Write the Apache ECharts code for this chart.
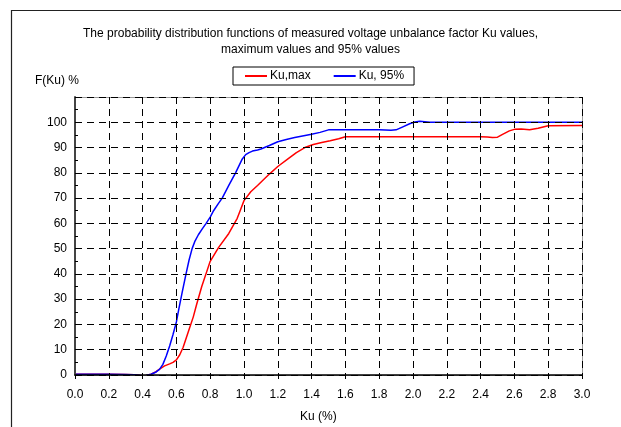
<!DOCTYPE html>
<html>
<head>
<meta charset="utf-8">
<script src="https://cdn.jsdelivr.net/npm/echarts@6/dist/echarts.min.js"></script>
<style>html,body{margin:0;padding:0;background:#fff;}#c{width:621px;height:427px;}</style>
</head>
<body>
<div id="c"></div>
<script>
var titleLines = ['The probability distribution functions of measured voltage unbalance factor Ku values,', 'maximum values and 95% values'];
var seriesNames = ['Ku,max', 'Ku, 95%'];
var xTicks = [0, 0.2, 0.4, 0.6, 0.8, 1.0, 1.2, 1.4, 1.6, 1.8, 2.0, 2.2, 2.4, 2.6, 2.8, 3.0];
var yTicks = [0, 10, 20, 30, 40, 50, 60, 70, 80, 90, 100];

var maxX = [0, 0.1, 0.2, 0.3, 0.35, 0.38, 0.4, 0.42, 0.45, 0.48, 0.5, 0.53, 0.56, 0.58, 0.6, 0.62, 0.64, 0.67, 0.7, 0.72, 0.75, 0.78, 0.8, 0.85, 0.91, 0.96, 0.98, 1.0, 1.04, 1.08, 1.15, 1.2, 1.26, 1.31, 1.36, 1.41, 1.46, 1.51, 1.56, 1.6, 1.8, 2.0, 2.2, 2.4, 2.44, 2.47, 2.5, 2.53, 2.57, 2.6, 2.64, 2.69, 2.74, 2.8, 3.0];
var maxY = [0.3, 0.3, 0.3, 0.2, 0.1, -0.1, -0.3, -0.2, 0.3, 1.3, 2.3, 3.6, 4.4, 5.0, 6.0, 8.0, 11, 17, 23, 28, 35, 41, 45, 50.5, 56, 62, 65.5, 69, 72.5, 75, 79.5, 82.5, 85.5, 88, 90, 91.2, 92, 92.7, 93.5, 94.3, 94.3, 94.3, 94.3, 94.3, 94.2, 94.0, 94.1, 95.2, 96.6, 97.2, 97.3, 97, 97.6, 98.6, 98.7];

var p95X = [0, 0.1, 0.2, 0.3, 0.35, 0.38, 0.4, 0.42, 0.45, 0.48, 0.5, 0.52, 0.54, 0.56, 0.58, 0.6, 0.614, 0.635, 0.657, 0.675, 0.693, 0.71, 0.73, 0.755, 0.776, 0.8, 0.82, 0.85, 0.871, 0.91, 0.95, 0.99, 1.01, 1.03, 1.05, 1.08, 1.1, 1.15, 1.2, 1.25, 1.3, 1.4, 1.45, 1.5, 1.6, 1.8, 1.87, 1.9, 1.94, 1.98, 2.01, 2.04, 2.07, 2.1, 2.4, 2.8, 3.0];
var p95Y = [0.3, 0.3, 0.3, 0.2, 0.1, -0.1, -0.3, -0.2, 0.3, 1.2, 2.2, 4.2, 7.5, 11.5, 16, 21, 26, 33, 40, 45.5, 50, 53, 55.5, 58, 60, 62.5, 65, 68, 70, 75, 80, 85.5, 87.2, 88, 88.6, 89, 89.4, 90.8, 92.3, 93.2, 94, 95.3, 96, 97, 97, 97, 96.8, 97, 98.2, 99.4, 100.1, 100.4, 100.2, 100, 100, 100, 100];

function pairs(xs, ys) { return xs.map(function (x, i) { return [x, ys[i]]; }); }

var G = {left: 75, right: 39, top: 97, bottom: 52};
var W = 621, H = 427;
var chart = echarts.init(document.getElementById('c'), null, {renderer: 'canvas'});
var font = 'Liberation Sans, Arial, sans-serif';
chart.setOption({
  animation: false,
  backgroundColor: '#fff',
  textStyle: {fontFamily: font},
  grid: {left: G.left, right: G.right, top: G.top, bottom: G.bottom, show: false},
  legend: {
    data: seriesNames,
    left: 233, top: 67,
    padding: [3, 10, 3, 12],
    itemGap: 23,
    itemWidth: 22, itemHeight: 2,
    icon: 'rect',
    borderColor: '#000', borderWidth: 1,
    textStyle: {fontFamily: font, fontSize: 12, color: '#000', padding: [0, 0, 0, -2]}
  },
  graphic: [
    {type: 'rect', shape: {x: 11.5, y: 10.5, width: 700, height: 500}, style: {fill: 'none', stroke: '#222', lineWidth: 1.2}, z: -1},
    {type: 'rect', z: 5, shape: {x: G.left + 0.5, y: G.top + 0.5, width: W - G.left - G.right, height: H - G.top - G.bottom}, style: {fill: 'none', stroke: '#999', lineWidth: 1}},
    {type: 'text', left: 'center', top: 26, style: {text: titleLines.join('\n'), font: '12px ' + font, fill: '#000', textAlign: 'center', lineHeight: 16}},
    {type: 'text', left: 35, top: 75, style: {text: 'F(Ku) %', font: '12px ' + font, fill: '#000'}},
    {type: 'text', left: 300, top: 411, style: {text: 'Ku (%)', font: '12px ' + font, fill: '#000'}}
  ],
  xAxis: {
    type: 'value', min: 0, max: 3, interval: 0.2, z: 6,
    axisLine: {show: true, onZero: false, lineStyle: {color: '#000', width: 1.5}},
    axisTick: {show: true, length: 4, lineStyle: {color: '#000'}},
    axisLabel: {fontSize: 12, color: '#000', margin: 14, formatter: function (v) { return v.toFixed(1); }},
    splitLine: {show: true, lineStyle: {color: '#000', type: [7, 5], width: 1}}
  },
  yAxis: {
    type: 'value', min: 0, max: 110, interval: 10, z: 6,
    axisLine: {show: true, lineStyle: {color: '#444', width: 2}},
    axisTick: {show: true, inside: true, length: 4, lineStyle: {color: '#000'}},
    minorTick: {show: true, splitNumber: 2, length: 3, lineStyle: {color: '#000'}},
    axisLabel: {fontSize: 12, color: '#000', margin: 8, formatter: function (v) { return yTicks.indexOf(v) >= 0 ? String(v) : ''; }},
    splitLine: {show: true, lineStyle: {color: '#000', type: [7, 5], width: 1}}
  },
  series: [
    {name: seriesNames[0], type: 'line', data: pairs(maxX, maxY), smooth: false, showSymbol: false, z: 3, lineStyle: {color: '#ff0000', width: 1.5}, itemStyle: {color: '#ff0000'}},
    {name: seriesNames[1], type: 'line', data: pairs(p95X, p95Y), smooth: false, showSymbol: false, z: 4, lineStyle: {color: '#0000ff', width: 1.5}, itemStyle: {color: '#0000ff'}}
  ]
});
</script>
</body>
</html>
